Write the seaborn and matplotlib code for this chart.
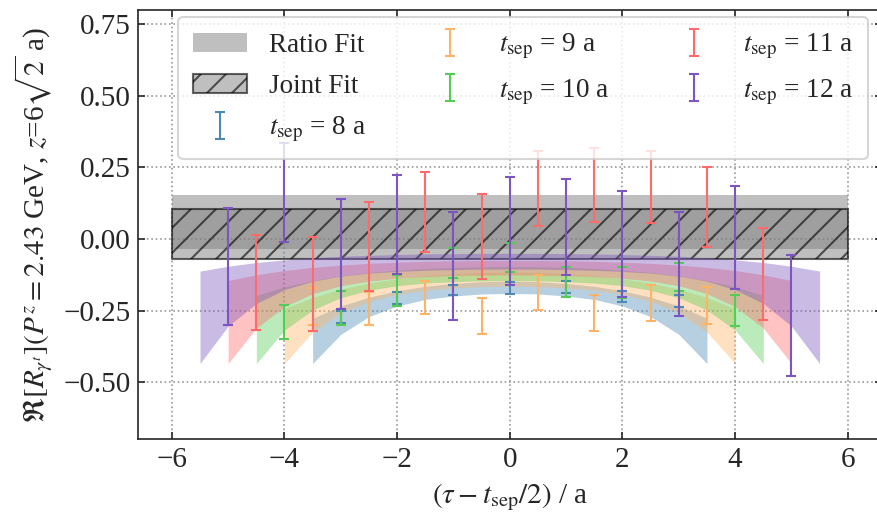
import numpy as np
import matplotlib
matplotlib.use('Agg')
import matplotlib.pyplot as plt
import seaborn as sns

sns.set_style('ticks')
plt.rcParams['font.family'] = ['Liberation Serif', 'DejaVu Serif']
plt.rcParams['mathtext.fontset'] = 'stix'
plt.rcParams['xtick.direction'] = 'in'
plt.rcParams['ytick.direction'] = 'in'
plt.rcParams['xtick.top'] = True
plt.rcParams['ytick.right'] = True

# t_sep values and colours
t_seps = [8, 9, 10, 11, 12]
colors = ['#4a8ab4', '#ffb366', '#55cc55', '#ff6b6b', '#7b55c0']

# ratio data points: x = tau - t_sep/2, central value, error
x_t8 = [-3, -2, -1, 0, 1, 2, 3]
y_t8 = [-0.2725, -0.2065, -0.1785, -0.171, -0.1685, -0.2005, -0.2175]
e_t8 = [0.0225, 0.0215, 0.0185, 0.020, 0.0205, 0.0205, 0.0205]

x_t9 = [-3.5, -2.5, -1.5, -0.5, 0.5, 1.5, 2.5, 3.5]
y_t9 = [-0.2355, -0.242, -0.204, -0.269, -0.188, -0.258, -0.224, -0.232]
e_t9 = [0.0635, 0.057, 0.059, 0.064, 0.061, 0.063, 0.062, 0.064]

x_t10 = [-4, -3, -2, -1, 0, 1, 2, 3, 4]
y_t10 = [-0.2915, -0.2395, -0.181, -0.083, -0.0655, -0.1495, -0.151, -0.1315, -0.2495]
e_t10 = [0.0595, 0.0595, 0.054, 0.052, 0.0505, 0.0535, 0.055, 0.0485, 0.0545]

x_t11 = [-4.5, -3.5, -2.5, -1.5, -0.5, 0.5, 1.5, 2.5, 3.5, 4.5]
y_t11 = [-0.1515, -0.1575, -0.027, 0.0955, 0.0085, 0.176, 0.1885, 0.1815, 0.1105, -0.1215]
e_t11 = [0.1665, 0.1635, 0.155, 0.1395, 0.1485, 0.132, 0.1305, 0.1265, 0.1395, 0.1605]

x_t12 = [-5, -4, -3, -2, -1, 0, 1, 2, 3, 4, 5]
y_t12 = [-0.0945, 0.163, -0.0515, 0.051, -0.094, 0.0295, 0.042, -0.016, -0.087, 0.005, -0.267]
e_t12 = [0.2045, 0.174, 0.1915, 0.173, 0.190, 0.1885, 0.169, 0.185, 0.183, 0.179, 0.212]

# fit bands for each t_sep
bx_t8 = [-3.5, -3, -2.5, -2, -1.5, -1, -0.5, 0, 0.5, 1, 1.5, 2, 2.5, 3, 3.5]
blo_t8 = [-0.435, -0.333, -0.271, -0.234, -0.211, -0.199, -0.192, -0.190,
          -0.192, -0.199, -0.211, -0.234, -0.271, -0.333, -0.435]
bhi_t8 = [-0.277, -0.234, -0.203, -0.181, -0.165, -0.155, -0.149, -0.147,
          -0.149, -0.155, -0.165, -0.181, -0.203, -0.234, -0.277]

bx_t9 = [-4, -3.5, -3, -2.5, -2, -1.5, -1, -0.5, 0, 0.5, 1, 1.5, 2, 2.5, 3, 3.5, 4]
blo_t9 = [-0.435, -0.325, -0.258, -0.218, -0.193, -0.179, -0.171, -0.166, -0.165,
          -0.166, -0.171, -0.179, -0.193, -0.218, -0.258, -0.325, -0.435]
bhi_t9 = [-0.243, -0.204, -0.175, -0.154, -0.139, -0.128, -0.121, -0.117, -0.116,
          -0.117, -0.121, -0.128, -0.139, -0.154, -0.175, -0.204, -0.243]

bx_t10 = [-4.5, -4, -3.5, -3, -2.5, -2, -1.5, -1, -0.5, 0,
          0.5, 1, 1.5, 2, 2.5, 3, 3.5, 4, 4.5]
blo_t10 = [-0.435, -0.318, -0.248, -0.205, -0.179, -0.163, -0.154, -0.149, -0.146, -0.145,
           -0.146, -0.149, -0.154, -0.163, -0.179, -0.205, -0.248, -0.318, -0.435]
bhi_t10 = [-0.197, -0.167, -0.145, -0.129, -0.117, -0.109, -0.103, -0.099, -0.097, -0.096,
           -0.097, -0.099, -0.103, -0.109, -0.117, -0.129, -0.145, -0.167, -0.197]

bx_t11 = [-5, -4.5, -4, -3.5, -3, -2.5, -2, -1.5, -1, -0.5, 0,
          0.5, 1, 1.5, 2, 2.5, 3, 3.5, 4, 4.5, 5]
blo_t11 = [-0.435, -0.311, -0.236, -0.191, -0.163, -0.147, -0.137, -0.131, -0.127, -0.126, -0.125,
           -0.126, -0.127, -0.131, -0.137, -0.147, -0.163, -0.191, -0.236, -0.311, -0.435]
bhi_t11 = [-0.145, -0.125, -0.110, -0.099, -0.091, -0.085, -0.081, -0.078, -0.076, -0.075, -0.075,
           -0.075, -0.076, -0.078, -0.081, -0.085, -0.091, -0.099, -0.110, -0.125, -0.145]

bx_t12 = [-5.5, -5, -4.5, -4, -3.5, -3, -2.5, -2, -1.5, -1, -0.5, 0,
          0.5, 1, 1.5, 2, 2.5, 3, 3.5, 4, 4.5, 5, 5.5]
blo_t12 = [-0.435, -0.304, -0.225, -0.177, -0.147, -0.130, -0.119, -0.113, -0.109, -0.107, -0.105, -0.105,
           -0.105, -0.107, -0.109, -0.113, -0.119, -0.130, -0.147, -0.177, -0.225, -0.304, -0.435]
bhi_t12 = [-0.112, -0.095, -0.082, -0.073, -0.066, -0.060, -0.057, -0.054, -0.052, -0.051, -0.050, -0.050,
           -0.050, -0.051, -0.052, -0.054, -0.057, -0.060, -0.066, -0.073, -0.082, -0.095, -0.112]

# ratio fit and joint fit results
fit_x = [-6, 6]
ratio_lo, ratio_hi = -0.035, 0.1535
joint_lo, joint_hi = -0.069, 0.105

points = [(x_t8, y_t8, e_t8), (x_t9, y_t9, e_t9), (x_t10, y_t10, e_t10),
          (x_t11, y_t11, e_t11), (x_t12, y_t12, e_t12)]
bands = [(bx_t8, blo_t8, bhi_t8), (bx_t9, blo_t9, bhi_t9), (bx_t10, blo_t10, bhi_t10),
         (bx_t11, blo_t11, bhi_t11), (bx_t12, blo_t12, bhi_t12)]

fig = plt.figure(figsize=(877 / 150, 517 / 150), dpi=150)
ax = fig.add_axes([0.1574, 0.1501, 0.8478, 0.8305])

ax.grid(True, ls=':', color='0.6', lw=0.8)
ax.set_axisbelow(True)

h_ratio = ax.fill_between(fit_x, ratio_lo, ratio_hi, color='gray', alpha=0.5, lw=0,
                          label='Ratio Fit')
h_joint = ax.fill_between(fit_x, joint_lo, joint_hi, facecolor=(0.5, 0.5, 0.5, 0.5),
                          edgecolor=(0.0, 0.0, 0.0, 0.6), hatch='//', lw=1.0,
                          label='Joint Fit')

for (bx, blo, bhi), c in zip(bands, colors):
    ax.fill_between(bx, blo, bhi, color=c, alpha=0.4, lw=0)

handles = [h_ratio, h_joint]
for (px, py, pe), c, t in zip(points, colors, t_seps):
    h = ax.errorbar(px, py, yerr=pe, fmt='none', ecolor=c, elinewidth=1.0,
                    capsize=2.5, capthick=1.0, label=r'$t_{\rm sep}$ = %d a' % t)
    handles.append(h)

ax.set_xlim(-6.6, 6.6)
ax.set_ylim(-0.7, 0.8)
ax.set_xticks([-6, -4, -2, 0, 2, 4, 6])
ax.set_yticks([-0.5, -0.25, 0.0, 0.25, 0.5, 0.75])
ax.tick_params(labelsize=14)

ax.set_xlabel(r'$(\tau - t_{\rm sep}/2)$ / a', fontsize=14)
ax.set_ylabel(r'$\mathfrak{R}[R_{\gamma^t}](P^z = 2.43$ GeV, $z$=6$\sqrt{2}$ a)', fontsize=14)

ax.legend(handles=handles, loc='upper left', ncol=3, fontsize=13,
          bbox_to_anchor=(0.054, 0.0, 0.928, 0.984), mode='expand', borderaxespad=0,
          borderpad=0.55, labelspacing=0.6)

plt.savefig('out.png', dpi=150)
